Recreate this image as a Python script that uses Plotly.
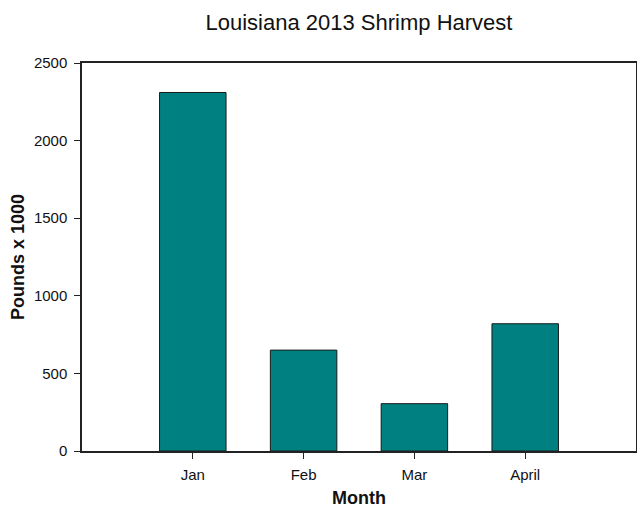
import plotly.graph_objects as go

months = ["Jan", "Feb", "Mar", "April"]
pounds_x1000 = [2310, 650, 305, 820]
y_ticks = [0, 500, 1000, 1500, 2000, 2500]

W, H = 637, 508
L, R, T, B = 82, 1, 63, 57

fig = go.Figure()
fig.add_trace(go.Bar(
    x=list(range(len(months))),
    y=pounds_x1000,
    width=0.6,
    marker=dict(color="#008080", line=dict(color="#1a1a1a", width=1)),
))

font = "Liberation Sans, Arial, sans-serif"
fig.update_layout(
    width=W, height=H,
    margin=dict(l=L, r=R, t=T, b=B, autoexpand=False),
    paper_bgcolor="white", plot_bgcolor="white",
    showlegend=False,
    font=dict(family=font, size=15, color="#111"),
    title=dict(text="Louisiana 2013 Shrimp Harvest", x=(L + (W - R - L) / 2) / W,
               xanchor="center", y=1 - 22 / H, yanchor="middle", yref="container",
               font=dict(family=font, size=22, color="#111")),
    xaxis=dict(
        range=[-1, len(months)], automargin=False,
        tickmode="array", tickvals=list(range(len(months))), ticktext=months,
        ticks="outside", ticklen=6, tickcolor="#222", tickwidth=1,
        ticklabelstandoff=3,
        showline=True, linecolor="#222", linewidth=1.5, mirror=True,
        showgrid=False, zeroline=False,
        title=dict(text="<b>Month</b>", font=dict(family=font, size=18, color="#111"), standoff=14),
    ),
    yaxis=dict(
        range=[0, 2500], automargin=False,
        tickmode="array", tickvals=y_ticks, ticktext=[str(v) for v in y_ticks],
        ticks="outside", ticklen=6, tickcolor="#222", tickwidth=1,
        ticklabelstandoff=4,
        showline=True, linecolor="#222", linewidth=1.5, mirror=True,
        showgrid=False, zeroline=False,
        title=dict(text="<b>Pounds x 1000</b>", font=dict(family=font, size=18, color="#111"), standoff=5),
    ),
)

fig.write_html("out.html", config={"displayModeBar": False},
               post_script="document.body.style.margin='0';")
